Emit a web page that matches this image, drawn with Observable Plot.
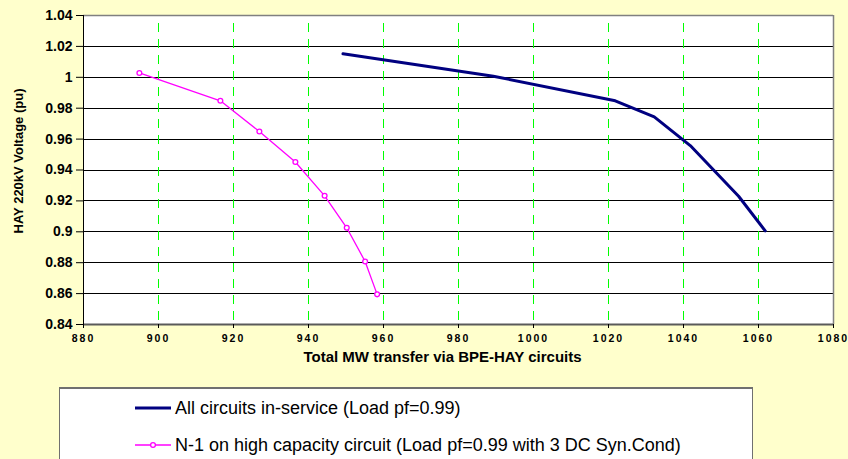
<!DOCTYPE html>
<html>
<head>
<meta charset="utf-8">
<script src="https://cdn.jsdelivr.net/npm/d3@7"></script>
<script src="https://cdn.jsdelivr.net/npm/@observablehq/plot@0.6"></script>
<style>
  html, body { margin: 0; padding: 0; background: #FFFFCC; width: 848px; height: 459px; overflow: hidden; }
  #wrap { position: relative; width: 848px; height: 459px; }
  #chart svg { display: block; }
  g[aria-label="x-axis tick label"] text { letter-spacing: 2px; }
  #legend { position: absolute; left: 59px; top: 387px; width: 692px; height: 120px; background: #fff;
            border: 1px solid #707070; border-top-width: 2px; font-family: "Liberation Sans", Arial, sans-serif; font-size: 18px; color: #000; }
  .item { position: absolute; left: 75px; display: flex; align-items: center; white-space: nowrap; }
  .item svg { margin-right: 3px; }
</style>
</head>
<body>
<div id="wrap">
  <div id="chart"></div>
  <div id="legend"></div>
</div>
<script>
// Series: All circuits in-service (Load pf=0.99)
const allX = [949.2, 989.3, 1021.8, 1032.2, 1041.8, 1054.7, 1061.8];
const allY = [1.0152, 1.0007, 0.9848, 0.9744, 0.9558, 0.9230, 0.9006];
// Series: N-1 on high capacity circuit (Load pf=0.99 with 3 DC Syn.Cond)
const n1X = [894.9, 916.5, 926.9, 936.5, 944.3, 950.2, 955.1, 958.3];
const n1Y = [1.0028, 0.9848, 0.9649, 0.9452, 0.9233, 0.9026, 0.8808, 0.8595];
// Tick values
const xTicks = [880, 900, 920, 940, 960, 980, 1000, 1020, 1040, 1060, 1080];
const yTicks = [0.84, 0.86, 0.88, 0.90, 0.92, 0.94, 0.96, 0.98, 1.00, 1.02, 1.04];
const yTickLabels = ["0.84", "0.86", "0.88", "0.9", "0.92", "0.94", "0.96", "0.98", "1", "1.02", "1.04"];
const seriesNames = ["All circuits in-service (Load pf=0.99)", "N-1 on high capacity circuit (Load pf=0.99 with 3 DC Syn.Cond)"];
const xTitle = "Total MW transfer via BPE-HAY circuits";
const yTitle = "HAY 220kV Voltage (pu)";

const allData = allX.map((x, i) => ({x, y: allY[i]}));
const n1Data = n1X.map((x, i) => ({x, y: n1Y[i]}));
const font = "'Liberation Sans', Arial, sans-serif";

const chart = Plot.plot({
  width: 848,
  height: 380,
  marginLeft: 83,
  marginRight: 15,
  marginTop: 15,
  marginBottom: 56,
  style: {background: "transparent", fontFamily: font, overflow: "visible"},
  x: {domain: [880, 1080], ticks: xTicks},
  y: {domain: [0.84, 1.04], ticks: yTicks},
  marks: [
    Plot.frame({fill: "white", stroke: null}),
    Plot.ruleY(yTicks.slice(1, -1), {stroke: "#000", strokeWidth: 1, shapeRendering: "crispEdges"}),
    Plot.ruleX(xTicks.slice(1, -1), {stroke: "#00FF00", strokeWidth: 1, strokeDasharray: "9,7", strokeDashoffset: 8.3, shapeRendering: "crispEdges"}),
    Plot.ruleY([1.04], {stroke: "#808080", strokeWidth: 1.5}),
    Plot.ruleX([1080], {stroke: "#808080", strokeWidth: 1.5}),
    Plot.ruleY([0.84], {stroke: "#5a5a5a", strokeWidth: 2}),
    Plot.ruleX([880], {stroke: "#000", strokeWidth: 1}),
    Plot.line(allData, {x: "x", y: "y", stroke: "#000080", strokeWidth: 3}),
    Plot.line(n1Data, {x: "x", y: "y", stroke: "#FF00FF", strokeWidth: 1.3}),
    Plot.dot(n1Data, {x: "x", y: "y", stroke: "#FF00FF", fill: "white", r: 2.4, strokeWidth: 1.3}),
    Plot.axisY({ticks: yTicks, tickFormat: (d, i) => yTickLabels[i], tickSize: 7, tickPadding: 4,
      fontSize: 14, fontWeight: "bold", fontFamily: font, stroke: "#000", label: null}),
    Plot.axisX({ticks: xTicks, tickFormat: d => String(d), tickSize: 4, tickPadding: 6,
      fontSize: 10.5, fontWeight: "bold", fontFamily: font, stroke: "#000", label: null}),
    Plot.text([yTitle], {frameAnchor: "left", textAnchor: "middle", dx: -65, dy: -9, rotate: -90, fontSize: 13, fontWeight: "bold", fontFamily: font, fill: "#000"}),
    Plot.text([xTitle], {frameAnchor: "bottom", textAnchor: "middle", dx: -16, dy: 37, fontSize: 15, fontWeight: "bold", fontFamily: font, fill: "#000"})
  ]
});
document.getElementById("chart").appendChild(chart);

// Legend
const legend = d3.select("#legend");
const sw = [
  {color: "#000080", width: 3, dot: false, top: 19},
  {color: "#FF00FF", width: 1.5, dot: true, top: 56}
];
seriesNames.forEach((name, i) => {
  const item = legend.append("div").attr("class", "item").style("top", (sw[i].top - 11) + "px").style("height", "22px");
  const s = item.append("svg").attr("width", 37).attr("height", 22);
  s.append("line").attr("x1", 0).attr("x2", 36).attr("y1", 11).attr("y2", 11)
    .attr("stroke", sw[i].color).attr("stroke-width", sw[i].width);
  if (sw[i].dot) s.append("circle").attr("cx", 18).attr("cy", 11).attr("r", 2.4)
    .attr("stroke", sw[i].color).attr("fill", "white").attr("stroke-width", 1.3);
  item.append("span").text(name);
});
</script>
</body>
</html>
